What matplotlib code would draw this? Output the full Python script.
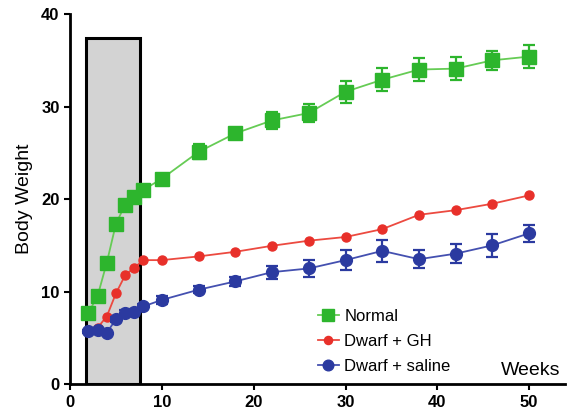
import matplotlib.pyplot as plt
from matplotlib.patches import Rectangle
from matplotlib.lines import Line2D

plt.rcParams['font.family'] = ['Liberation Sans', 'DejaVu Sans']

# weeks of age
weeks = [2, 3, 4, 5, 6, 7, 8, 10, 14, 18, 22, 26, 30, 34, 38, 42, 46, 50]

normal = [7.7, 9.5, 13.1, 17.3, 19.4, 20.2, 21.0, 22.2, 25.1, 27.1,
          28.5, 29.3, 31.6, 32.9, 34.0, 34.1, 35.0, 35.4]
normal_err = [0.3, 0.3, 0.3, 0.3, 0.3, 0.3, 0.4, 0.5, 0.8, 0.6,
              0.95, 0.95, 1.2, 1.25, 1.25, 1.25, 1.0, 1.25]

dwarf_gh = [5.7, 6.1, 7.3, 9.8, 11.75, 12.6, 13.4, 13.4, 13.8, 14.3,
            14.95, 15.5, 15.9, 16.75, 18.3, 18.8, 19.5, 20.4]
dwarf_gh_err = [0.15] * 18

dwarf_saline = [5.7, 5.8, 5.55, 7.0, 7.7, 7.8, 8.4, 9.1, 10.2, 11.1,
                12.1, 12.5, 13.4, 14.4, 13.5, 14.1, 15.0, 16.3]
dwarf_saline_err = [0.2, 0.2, 0.2, 0.3, 0.3, 0.3, 0.3, 0.4, 0.4, 0.5,
                    0.7, 0.9, 1.05, 1.2, 1.0, 1.05, 1.25, 0.9]

# shaded treatment window
window_start, window_end, window_top = 1.7, 7.6, 37.4

fig = plt.figure(figsize=(5.69, 4.13), dpi=100)
ax = fig.add_axes([0.123, 0.070, 0.870, 0.896])

ax.add_patch(Rectangle((window_start, 0), window_end - window_start, window_top,
                       facecolor='#d3d3d3', edgecolor='black', linewidth=2.2, zorder=1))

# values, errors, name, line colour, marker colour, marker, size, cap size
styles = [
    (normal, normal_err, 'Normal', '#66cc55', '#2db52d', 's', 9.5, 4),
    (dwarf_gh, dwarf_gh_err, 'Dwarf + GH', '#ec4a40', '#e8302a', 'o', 6.5, 2),
    (dwarf_saline, dwarf_saline_err, 'Dwarf + saline', '#4450b0', '#2b3aa0', 'o', 8.5, 4),
]

handles = []
for i, (vals, errs, name, lcol, mcol, mk, ms, cap) in enumerate(styles):
    ax.errorbar(weeks, vals, yerr=errs, color=lcol, ecolor=mcol,
                marker=mk, markersize=ms, markerfacecolor=mcol, markeredgecolor=mcol,
                linewidth=1.3, elinewidth=1.6, capsize=cap, capthick=1.6, zorder=3 + i)
    handles.append(Line2D([], [], color=lcol, marker=mk, markersize=ms * 0.9,
                          markerfacecolor=mcol, markeredgecolor=mcol, linewidth=1.3, label=name))

ax.set_xlim(0, 53.9)
ax.set_ylim(0, 40)
ax.set_xticks([0, 10, 20, 30, 40, 50])
ax.set_yticks([0, 10, 20, 30, 40])
ax.spines['top'].set_visible(False)
ax.spines['right'].set_visible(False)
ax.spines['left'].set_linewidth(2)
ax.spines['bottom'].set_linewidth(2)
ax.tick_params(width=1.5, length=4, labelsize=12)
for lbl in ax.get_xticklabels() + ax.get_yticklabels():
    lbl.set_fontweight('bold')

ax.set_ylabel('Body Weight', fontsize=14, labelpad=6)
ax.text(50.2, 1.5, 'Weeks', fontsize=14, ha='center', va='center')

ax.legend(handles=handles, loc='lower left', bbox_to_anchor=(0.47, -0.012), frameon=False,
          fontsize=12, handlelength=1.3, handletextpad=0.3, labelspacing=0.6)

fig.savefig('out.png', dpi=100)
